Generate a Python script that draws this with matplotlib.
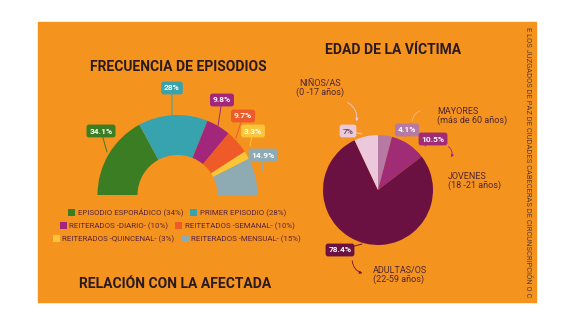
import matplotlib
matplotlib.use("Agg")
import matplotlib.pyplot as plt
from matplotlib.patches import Rectangle
from matplotlib.legend import Legend

plt.rcParams['font.family'] = ['Roboto', 'DejaVu Sans']

W, H = 575, 324

# frecuencia de episodios (semi donut)
episodios = ["EPISODIO ESPORÁDICO (34%)", "PRIMER EPISODIO (28%)",
             "REITERADOS -DIARIO- (10%)", "REITETADOS -SEMANAL- (10%)",
             "REITERADOS -QUINCENAL- (3%)", "REITERADOS -MENSUAL- (15%)"]
episodios_pct = [34.1, 28.0, 9.8, 9.7, 3.3, 14.9]
episodios_lbl = ["34.1%", "28%", "9.8%", "9.7%", "3.3%", "14.9%"]
episodios_col = ["#3b7d22", "#37a3ae", "#a2277b", "#ee5a28", "#fbc53a", "#8eabb3"]

# edad de la victima (pie)
edad = ["MAYORES\n(más de 60 años)", "JOVENES\n(18 -21 años)",
        "ADULTAS/OS\n(22-59 años)", "NIÑOS/AS\n(0 -17 años)"]
edad_pct = [4.1, 10.5, 78.4, 7.0]
edad_lbl = ["4.1%", "10.5%", "78.4%", "7%"]
edad_col = ["#b77aa4", "#9f2c75", "#6a1142", "#ecc8dc"]

naranja = "#f5931f"
oscuro = "#2a1a1e"
texto = "#4e2630"


def Y(y):
    return H - y


fig = plt.figure(figsize=(W / 100, H / 100), dpi=100)
fig.patch.set_facecolor("white")
ax = fig.add_axes([0, 0, 1, 1])

fondo = Rectangle((38, Y(302)), 498, 280, color=naranja, zorder=0)
ax.add_patch(fondo)

# semi donut
vals = episodios_pct + [sum(episodios_pct)]
cols = episodios_col + ["none"]
wedges, _ = ax.pie(vals, colors=cols, startangle=180, counterclock=False,
                   radius=80, center=(177.5, Y(195)),
                   wedgeprops=dict(width=40, linewidth=0))

# pie
wedges2, _ = ax.pie(edad_pct, colors=edad_col, startangle=90, counterclock=False,
                    radius=55, center=(378, Y(190)),
                    wedgeprops=dict(linewidth=0))

ax.set_xlim(0, W)
ax.set_ylim(0, H)
ax.set_aspect("equal")
ax.axis("off")


def callout(txt, box, tip, fc, tc="white", lc=None):
    ax.annotate(txt, xy=(tip[0], Y(tip[1])), xytext=(box[0], Y(box[1])),
                ha="center", va="center", fontsize=6, color=tc, fontweight="bold",
                bbox=dict(boxstyle="round,pad=0.35,rounding_size=0.3", fc=fc, ec="none"),
                arrowprops=dict(arrowstyle="-", color=lc or fc, lw=0.7,
                                shrinkA=0, shrinkB=0), zorder=5)


box_pos = [(101, 131), (172, 88), (222, 100), (243, 116), (253, 131), (263, 155)]
tip_pos = [(107, 152), (172, 116), (218, 126), (236, 138), (250, 146), (262, 172)]
for lbl, b, t, c in zip(episodios_lbl, box_pos, tip_pos, episodios_col):
    callout(lbl, b, t, c)

ax.text(178, Y(67), "FRECUENCIA DE EPISODIOS", ha="center", va="center",
        fontsize=10, fontweight="bold", color=oscuro)

# legend rows (centred, two entries each)
rows_y = [213, 226, 239]
for r in range(3):
    leg = Legend(ax, [wedges[2 * r], wedges[2 * r + 1]],
                 [episodios[2 * r], episodios[2 * r + 1]],
                 ncol=2, loc="center", bbox_to_anchor=(177 / W, Y(rows_y[r]) / H),
                 frameon=False, fontsize=5.7, handlelength=0.9, handleheight=0.9,
                 handletextpad=0.3, columnspacing=0.9, borderpad=0,
                 labelcolor="#5a2438")
    ax.add_artist(leg)

ax.text(175, Y(284), "RELACIÓN CON LA AFECTADA", ha="center", va="center",
        fontsize=10, fontweight="bold", color=oscuro)

# pie labels
ax.text(393, Y(50), "EDAD DE LA VÍCTIMA", ha="center", va="center",
        fontsize=10, fontweight="bold", color=oscuro)

callout(edad_lbl[0], (407, 130), (405, 137), edad_col[0])
callout(edad_lbl[1], (433, 139), (425, 146), edad_col[1])
callout(edad_lbl[2], (340, 250), (362, 244), edad_col[2])
callout(edad_lbl[3], (348, 131), (362, 134), edad_col[3], tc="#6a5560")

lab_pos = [(437, 116), (448, 181), (373, 275), (320, 88)]
for lbl, p in zip(edad, lab_pos):
    ha = "center" if p[0] == 320 else "left"
    ax.text(p[0], Y(p[1]), lbl, ha=ha, va="center", fontsize=6.5,
            color=texto, linespacing=1.0)

arr = dict(arrowstyle="-|>", lw=0.6, mutation_scale=4)
ax.annotate("", xy=(356, Y(124)), xytext=(345, Y(101)),
            arrowprops=dict(arr, color="#ecc8dc", connectionstyle="arc3,rad=-0.4"))
ax.annotate("", xy=(423, Y(110)), xytext=(412, Y(124)),
            arrowprops=dict(arrowstyle="-", lw=0.6, color="#e9b98a",
                            connectionstyle="arc3,rad=-0.4"))
ax.annotate("", xy=(450, Y(160)), xytext=(446, Y(145)),
            arrowprops=dict(arr, color="#9f2c75", connectionstyle="arc3,rad=-0.5"))
ax.annotate("", xy=(365, Y(274)), xytext=(352, Y(258)),
            arrowprops=dict(arr, color="#6a1142", connectionstyle="arc3,rad=0.4"))

ax.text(529, Y(162),
        "E LOS JUZGADOS DE PAZ DE CIUDADES CABECERAS DE CIRCUNSCRIPCIÓN O C",
        rotation=-90, ha="center", va="center", fontsize=5.45, color="#5a3a2a")

fig.savefig("out.png", dpi=100, facecolor="white")
